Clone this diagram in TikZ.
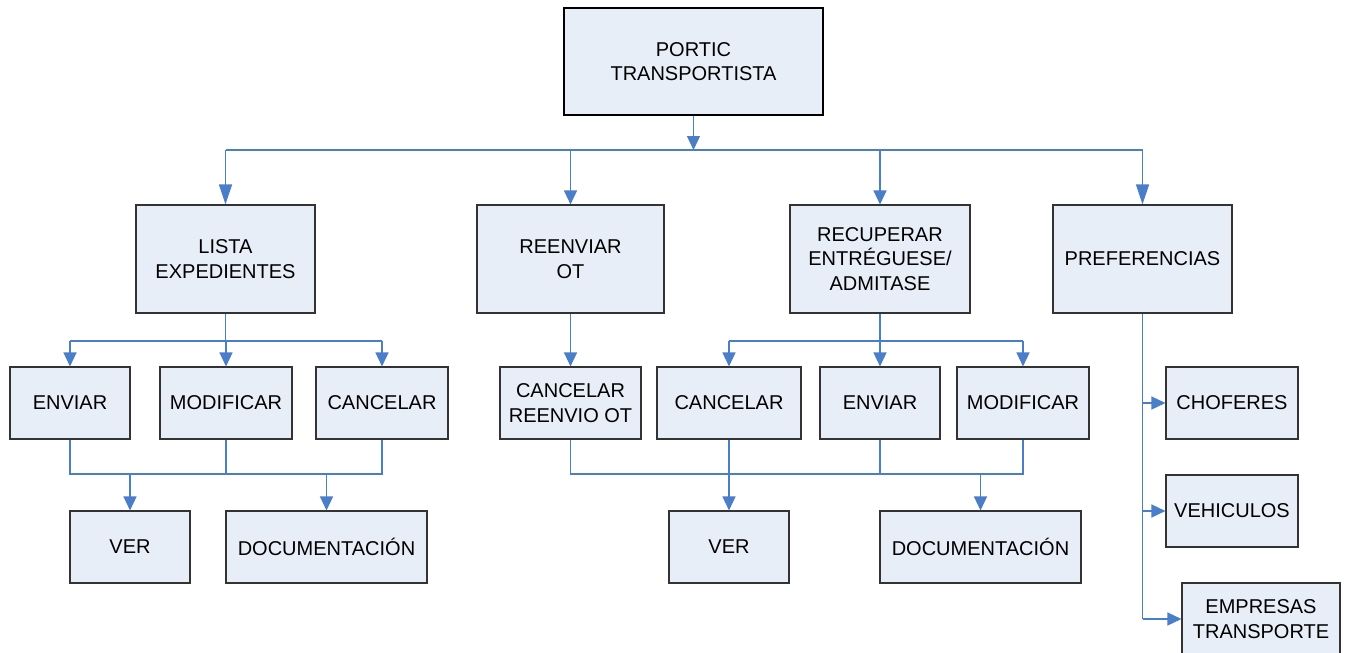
\documentclass[tikz,border=0pt]{standalone}
\usepackage{fontspec}
\setmainfont{Liberation Sans}
\usetikzlibrary{arrows.meta}
\definecolor{boxfill}{HTML}{E8EEF8}
\definecolor{linec}{HTML}{4A7EC8}
\definecolor{edge}{HTML}{333333}
\begin{document}
\begin{tikzpicture}[x=1pt,y=1pt,
  box/.style={draw=edge,line width=1.1pt,fill=boxfill,inner sep=0pt,align=center,
    font=\fontsize{20}{24.5}\selectfont},
  topbox/.style={box,draw=black,line width=2pt},
  conn/.style={draw=linec,line width=1.4pt},
  arr/.style={conn,-{Triangle[length=14pt,width=13pt]}},
  arrl/.style={conn,-{Triangle[length=20pt,width=13pt]}},
]
\useasboundingbox (0,0) rectangle (1345,-653);
\clip (0,0) rectangle (1345,-653);
% nodes
\node[topbox,minimum width=259pt,minimum height=107pt] (portic) at (693.5,-61.5) {PORTIC\\TRANSPORTISTA};
\node[box,minimum width=179pt,minimum height=108pt] (lista) at (225.5,-259) {LISTA\\EXPEDIENTES};
\node[box,minimum width=187pt,minimum height=108pt] (reenviar) at (570.5,-259) {REENVIAR\\OT};
\node[box,minimum width=180pt,minimum height=108pt] (recup) at (880,-259) {RECUPERAR\\ENTRÉGUESE/\\ADMITASE};
\node[box,minimum width=179pt,minimum height=108pt] (pref) at (1142.5,-259) {PREFERENCIAS};
\node[box,minimum width=120pt,minimum height=72pt] (envA) at (70,-403) {ENVIAR};
\node[box,minimum width=132pt,minimum height=72pt] (modA) at (226,-403) {MODIFICAR};
\node[box,minimum width=132pt,minimum height=72pt] (canA) at (382,-403) {CANCELAR};
\node[box,minimum width=120pt,minimum height=72pt] (verA) at (130,-547) {VER};
\node[box,minimum width=201pt,minimum height=72pt] (docA) at (326.5,-547) {DOCUMENTACIÓN};
\node[box,minimum width=141pt,minimum height=72pt] (cro) at (570.5,-403) {CANCELAR\\REENVIO OT};
\node[box,minimum width=144pt,minimum height=72pt] (canB) at (729,-403) {CANCELAR};
\node[box,minimum width=120pt,minimum height=72pt] (envB) at (880,-403) {ENVIAR};
\node[box,minimum width=132pt,minimum height=72pt] (modB) at (1023,-403) {MODIFICAR};
\node[box,minimum width=120pt,minimum height=72pt] (verB) at (729,-547) {VER};
\node[box,minimum width=201pt,minimum height=72pt] (docB) at (980.5,-547) {DOCUMENTACIÓN};
\node[box,minimum width=132pt,minimum height=72pt] (chof) at (1232,-403) {CHOFERES};
\node[box,minimum width=132pt,minimum height=72pt] (veh) at (1232,-511) {VEHICULOS};
\node[box,minimum width=158pt,minimum height=72pt] (emp) at (1261,-619) {EMPRESAS\\TRANSPORTE};
% bus coordinates
\coordinate (busT) at (0,-150);
\coordinate (busM) at (0,-341);
\coordinate (busB) at (0,-474);
% top level
\draw[arr] (portic.south) -- (portic.south |- busT);
\draw[conn] (lista.north |- busT) -- (pref.north |- busT);
\draw[arrl] (lista.north |- busT) -- (lista.north);
\draw[arr] (reenviar.north |- busT) -- (reenviar.north);
\draw[arr] (recup.north |- busT) -- (recup.north);
\draw[arrl] (pref.north |- busT) -- (pref.north);
% lista branch
\draw[conn] (lista.south) -- (lista.south |- busM);
\draw[conn] (envA.north |- busM) -- (canA.north |- busM);
\draw[arr] (envA.north |- busM) -- (envA.north);
\draw[arr] (modA.north |- busM) -- (modA.north);
\draw[arr] (canA.north |- busM) -- (canA.north);
\draw[conn] (envA.south) -- (envA.south |- busB) -- (canA.south |- busB) -- (canA.south);
\draw[conn] (modA.south) -- (modA.south |- busB);
\draw[arr] (verA.north |- busB) -- (verA.north);
\draw[arr] (docA.north |- busB) -- (docA.north);
% reenviar / recuperar branch
\draw[arr] (reenviar.south) -- (cro.north);
\draw[conn] (recup.south) -- (recup.south |- busM);
\draw[conn] (canB.north |- busM) -- (modB.north |- busM);
\draw[arr] (canB.north |- busM) -- (canB.north);
\draw[arr] (envB.north |- busM) -- (envB.north);
\draw[arr] (modB.north |- busM) -- (modB.north);
\draw[conn] (cro.south) -- (cro.south |- busB) -- (modB.south |- busB) -- (modB.south);
\draw[conn] (envB.south) -- (envB.south |- busB);
\draw[arr] (canB.south) -- (verB.north);
\draw[arr] (docB.north |- busB) -- (docB.north);
% preferencias branch
\draw[conn] (pref.south) -- (pref.south |- emp.west);
\draw[arr] (pref.south |- chof.west) -- (chof.west);
\draw[arr] (pref.south |- veh.west) -- (veh.west);
\draw[arr] (pref.south |- emp.west) -- (emp.west);
\end{tikzpicture}
\end{document}
